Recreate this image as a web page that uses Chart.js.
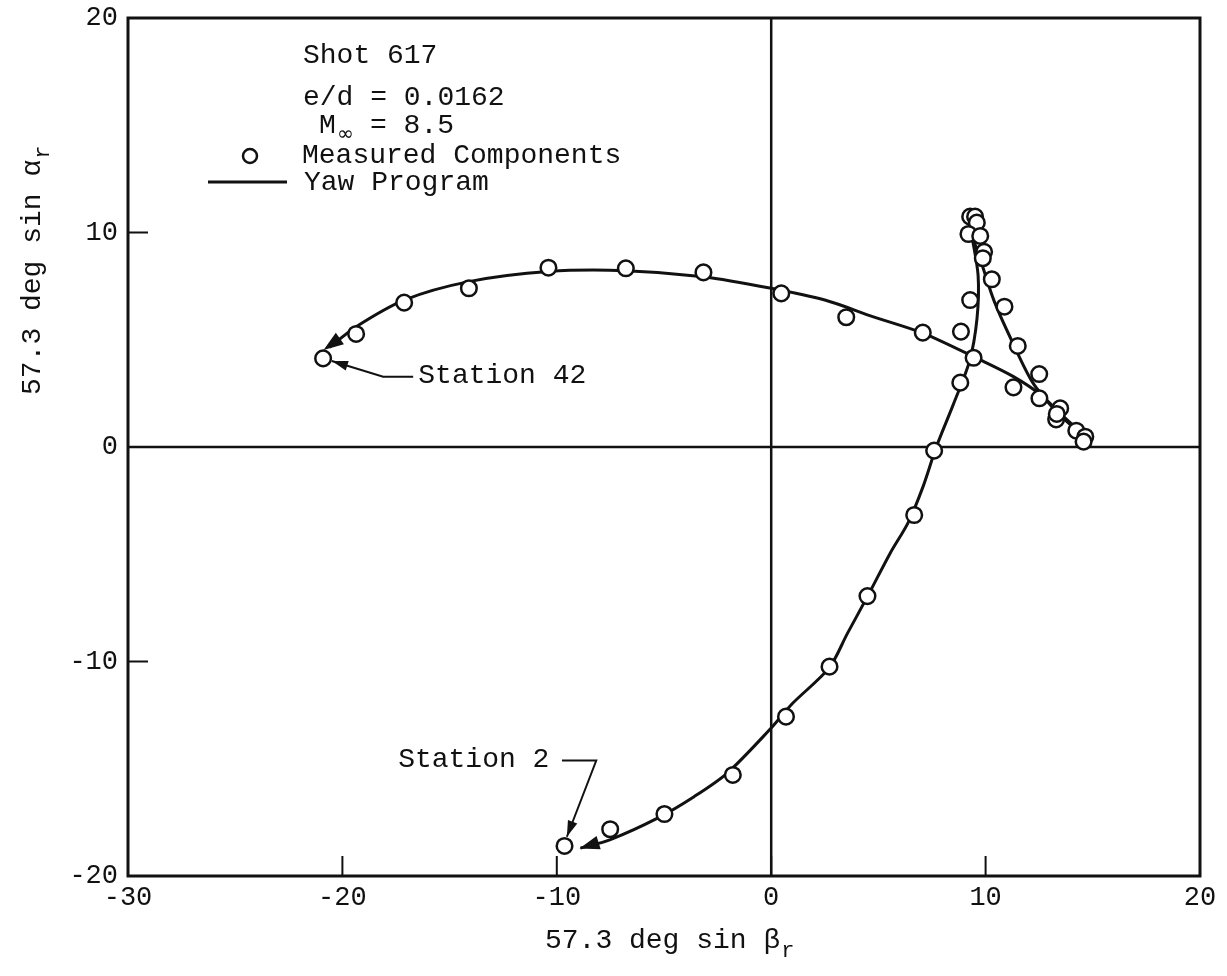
<!DOCTYPE html>
<html>
<head>
<meta charset="utf-8">
<script src="https://cdn.jsdelivr.net/npm/chart.js@4.4.1/dist/chart.umd.min.js"></script>
<style>
html, body { margin: 0; padding: 0; background: #fff; }
#wrap { width: 1227px; height: 976px; }
</style>
</head>
<body>
<div id="wrap"><canvas id="myChart" width="1227" height="976"></canvas></div>
<script>
// axis ticks
const xTickValues = [-30, -20, -10, 0, 10, 20];
const yTickValues = [-20, -10, 0, 10, 20];

// measured components (57.3 sin beta, 57.3 sin alpha)
const measured = [
  [-20.9, 4.13], [-19.36, 5.27], [-17.12, 6.73], [-14.1, 7.4], [-10.39, 8.36],
  [-6.78, 8.33], [-3.16, 8.14], [0.47, 7.16], [3.5, 6.05], [7.07, 5.33],
  [8.85, 5.38], [9.28, 6.85], [9.44, 4.16], [8.82, 3.0], [7.6, -0.17],
  [9.28, 10.74], [9.51, 10.74], [9.59, 10.46], [9.2, 9.93], [9.75, 9.84],
  [9.93, 9.1], [9.87, 8.8], [10.29, 7.82], [10.88, 6.54], [11.5, 4.71],
  [12.5, 3.4], [11.3, 2.78], [12.51, 2.27], [13.48, 1.8], [13.29, 1.29],
  [13.32, 1.54], [14.23, 0.76], [14.65, 0.48], [14.57, 0.25],
  [6.67, -3.17], [4.49, -6.95], [2.72, -10.24], [0.69, -12.57], [-1.79, -15.29],
  [-4.98, -17.11], [-7.51, -17.82], [-9.64, -18.6]
];

// yaw program, split at its two sharp turns
const yawRise = [
  [-8.9, -18.7], [-7.5, -18.3], [-5.3, -17.3], [-3.6, -16.3], [-2.05, -15.2],
  [0, -13.1], [1.0, -11.95], [2.7, -10.3], [3.55, -8.7], [4.5, -6.95],
  [5.55, -4.95], [6.4, -3.5], [7.1, -1.8], [7.7, 0], [8.5, 2.0],
  [9.25, 4.0], [9.6, 6.0], [9.65, 8.0], [9.35, 9.9]
];
const yawFall = [
  [9.35, 9.9], [9.8, 8.6], [10.4, 6.8], [11.2, 5.0], [12.2, 3.0],
  [13.3, 1.65], [14.0, 1.0], [14.7, 0.45]
];
const yawReturn = [
  [14.7, 0.45], [13.6, 1.45], [12.55, 2.45], [11.3, 3.28], [9.75, 4.06],
  [7.1, 5.3], [4.77, 6.07], [2.5, 6.85], [0, 7.4], [-3.16, 7.94],
  [-6.78, 8.22], [-10.39, 8.18], [-14.1, 7.71], [-17.12, 6.85], [-19.36, 5.61],
  [-20.6, 4.65]
];

// arrowheads on the curve: [tip, tail]
const curveArrows = [
  [[-20.88, 4.52], [-19.96, 5.17]],
  [[-8.94, -18.72], [-8.07, -18.45]]
];
// station labels and their leaders
const stationLabels = [
  { text: 'Station 42', at: [-16.46, 2.98], leader: [[-16.70, 3.28], [-18.10, 3.28], [-20.49, 4.01]] },
  { text: 'Station 2', at: [-17.40, -14.92], leader: [[-9.76, -14.62], [-8.16, -14.62], [-9.53, -18.17]] }
];

const INK = '#111';
const FONT = '"Liberation Mono", "DejaVu Sans Mono", monospace';

const toXY = arr => arr.map(p => ({ x: p[0], y: p[1] }));

function arrowHead(ctx, tx, ty, fx, fy, len, half) {
  const dx = tx - fx, dy = ty - fy;
  const d = Math.hypot(dx, dy) || 1;
  const ux = dx / d, uy = dy / d;
  const bx = tx - ux * len, by = ty - uy * len;
  ctx.beginPath();
  ctx.moveTo(tx, ty);
  ctx.lineTo(bx - uy * half, by + ux * half);
  ctx.lineTo(bx + uy * half, by - ux * half);
  ctx.closePath();
  ctx.fill();
}

const overlay = {
  id: 'overlay',
  beforeDatasetsDraw(chart) {
    const { ctx, chartArea: a, scales: { x, y } } = chart;
    ctx.save();
    ctx.strokeStyle = INK;
    ctx.lineWidth = 2.5;
    ctx.beginPath();
    ctx.moveTo(x.getPixelForValue(0), a.top);
    ctx.lineTo(x.getPixelForValue(0), a.bottom);
    ctx.moveTo(a.left, y.getPixelForValue(0));
    ctx.lineTo(a.right, y.getPixelForValue(0));
    ctx.stroke();

    ctx.lineWidth = 2;
    ctx.beginPath();
    xTickValues.slice(1, -1).forEach(v => {
      const px = x.getPixelForValue(v);
      ctx.moveTo(px, a.bottom);
      ctx.lineTo(px, a.bottom - 20);
    });
    yTickValues.slice(1, -1).forEach(v => {
      const py = y.getPixelForValue(v);
      ctx.moveTo(a.left, py);
      ctx.lineTo(a.left + 20, py);
    });
    ctx.stroke();

    ctx.lineWidth = 3;
    ctx.strokeRect(a.left, a.top, a.right - a.left, a.bottom - a.top);
    ctx.restore();
  },
  afterDatasetsDraw(chart) {
    const { ctx, scales: { x, y } } = chart;
    const X = v => x.getPixelForValue(v), Y = v => y.getPixelForValue(v);
    ctx.save();
    ctx.fillStyle = INK;
    ctx.strokeStyle = INK;

    curveArrows.forEach(([tip, tail]) => {
      arrowHead(ctx, X(tip[0]), Y(tip[1]), X(tail[0]), Y(tail[1]), 20, 7);
    });

    ctx.font = '28px ' + FONT;
    ctx.textBaseline = 'alphabetic';
    ctx.textAlign = 'left';
    stationLabels.forEach(s => {
      ctx.fillText(s.text, X(s.at[0]), Y(s.at[1]));
      ctx.lineWidth = 2;
      ctx.beginPath();
      s.leader.forEach((p, i) => {
        const px = X(p[0]), py = Y(p[1]);
        if (i === 0) ctx.moveTo(px, py); else ctx.lineTo(px, py);
      });
      ctx.stroke();
      const n = s.leader.length;
      const tip = s.leader[n - 1], prev = s.leader[n - 2];
      arrowHead(ctx, X(tip[0]), Y(tip[1]), X(prev[0]), Y(prev[1]), 16, 5);
    });

    // key block
    const lx = chart.chartArea.left;
    ctx.font = '28px ' + FONT;
    ctx.fillText('Shot 617', lx + 175, 63);
    ctx.fillText('e/d = 0.0162', lx + 175, 105);
    ctx.fillText('M', lx + 191, 133);
    ctx.font = '20px "DejaVu Sans", sans-serif';
    ctx.fillText('\u221e', lx + 209, 140);
    ctx.font = '28px ' + FONT;
    ctx.fillText('= 8.5', lx + 242, 133);
    ctx.fillText('Measured Components', lx + 174, 163);
    ctx.fillText('Yaw Program', lx + 176, 190);
    ctx.lineWidth = 2.5;
    ctx.beginPath();
    ctx.arc(lx + 122, 156, 7, 0, Math.PI * 2);
    ctx.stroke();
    ctx.lineWidth = 3;
    ctx.beginPath();
    ctx.moveTo(lx + 80, 182);
    ctx.lineTo(lx + 159, 182);
    ctx.stroke();

    // axis titles
    ctx.font = '28px ' + FONT;
    const xt = '57.3 deg sin \u03b2';
    ctx.fillText(xt, 545, 948);
    const w = ctx.measureText(xt).width;
    ctx.font = '22px ' + FONT;
    ctx.fillText('r', 545 + w + 1, 957);

    ctx.translate(40, 395);
    ctx.rotate(-Math.PI / 2);
    ctx.font = '28px ' + FONT;
    const yt = '57.3 deg sin \u03b1';
    ctx.fillText(yt, 0, 0);
    const wy = ctx.measureText(yt).width;
    ctx.font = '22px ' + FONT;
    ctx.fillText('r', wy + 1, 9);
    ctx.restore();
  }
};

const tickFont = { family: FONT, size: 27 };

new Chart(document.getElementById('myChart'), {
  type: 'scatter',
  data: {
    datasets: [
      {
        label: 'Measured Components',
        data: toXY(measured),
        pointRadius: 7.8,
        pointBorderWidth: 2.5,
        pointBackgroundColor: '#fff',
        pointBorderColor: INK,
        showLine: false
      },
      {
        label: 'Yaw Program',
        data: toXY(yawRise),
        showLine: true, tension: 0.3, pointRadius: 0,
        borderColor: INK, borderWidth: 3
      },
      {
        label: 'Yaw Program 2',
        data: toXY(yawFall),
        showLine: true, tension: 0.3, pointRadius: 0,
        borderColor: INK, borderWidth: 3
      },
      {
        label: 'Yaw Program 3',
        data: toXY(yawReturn),
        showLine: true, tension: 0.3, pointRadius: 0,
        borderColor: INK, borderWidth: 3
      }
    ]
  },
  options: {
    responsive: false,
    animation: false,
    layout: { padding: { top: 18, right: 27, left: 0, bottom: 0 } },
    scales: {
      x: {
        type: 'linear', min: -30, max: 20,
        afterFit: s => { s.height = 100; s.paddingLeft = 0; s.paddingRight = 0; },
        afterBuildTicks: s => { s.ticks = xTickValues.map(v => ({ value: v })); },
        grid: { display: false, drawTicks: false },
        border: { display: false },
        ticks: { font: tickFont, color: INK, padding: 6, maxRotation: 0 }
      },
      y: {
        type: 'linear', min: -20, max: 20,
        afterFit: s => { s.width = 128; s.paddingTop = 0; s.paddingBottom = 0; },
        afterBuildTicks: s => { s.ticks = yTickValues.map(v => ({ value: v })); },
        grid: { display: false, drawTicks: false },
        border: { display: false },
        ticks: { font: tickFont, color: INK, padding: 10 }
      }
    },
    plugins: {
      legend: { display: false },
      tooltip: { enabled: false }
    }
  },
  plugins: [overlay]
});
</script>
</body>
</html>
